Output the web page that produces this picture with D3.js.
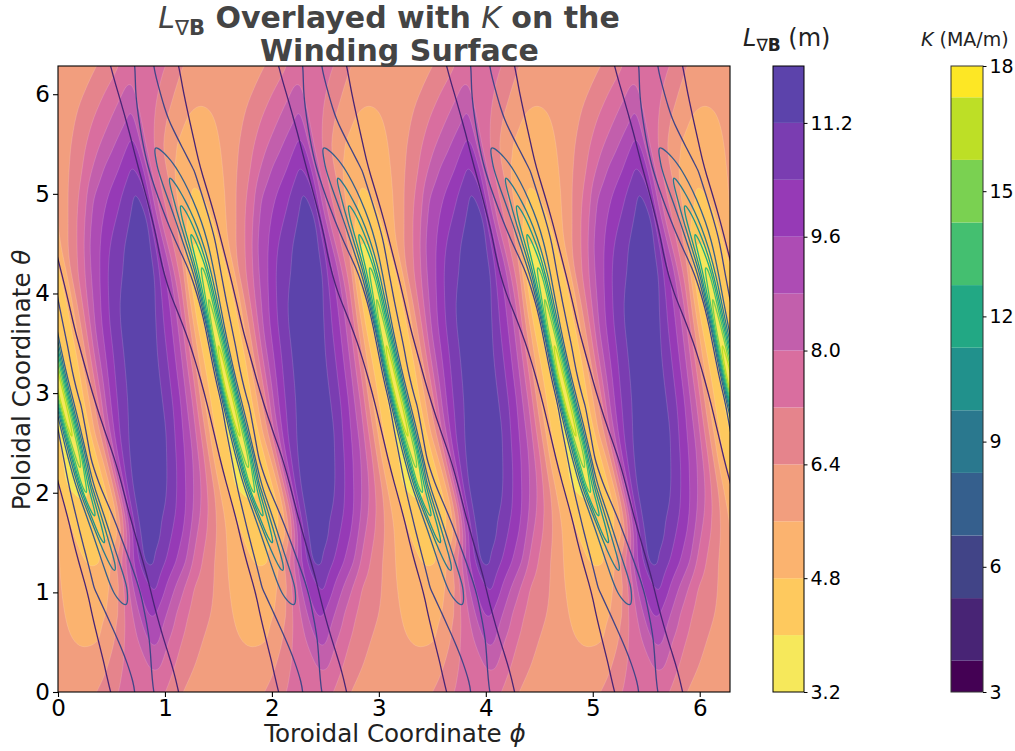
<!DOCTYPE html>
<html>
<head>
<meta charset="utf-8">
<script src="https://cdn.jsdelivr.net/npm/d3@7"></script>
<style>
body { margin: 0; background: #fff; }
text { font-family: "DejaVu Sans", sans-serif; }
</style>
</head>
<body>
<svg width="1015" height="751"></svg>
<script>
// theta of every grid row, top of the plot first
var thetas = [6.283, 6.021, 5.760, 5.498, 5.236, 4.974, 4.712, 4.451, 4.189, 3.927, 3.665, 3.403, 3.142,
    2.880, 2.618, 2.356, 2.094, 1.833, 1.571, 1.309, 1.047, 0.785, 0.524, 0.262, 0];

// phi of the current sheet ridge on each row, the grids below are read relative to it
var ridgePhi = [2.375, 2.394, 2.422, 2.468, 2.581, 2.683, 2.777, 2.861, 2.936, 2.983, 3.030, 3.086, 3.132,
    3.198, 3.254, 3.329, 3.375, 3.460, 3.544, 3.637, 3.740, 3.815, 3.899, 3.927, 3.946];

// phi offsets from the ridge, one field period
var lOffsets = [-0.785, -0.673, -0.561, -0.468, -0.374, -0.299, -0.234, -0.187, -0.150, -0.112, -0.075, -0.037,
    0, 0.056, 0.112, 0.168, 0.224, 0.281, 0.337, 0.393, 0.449, 0.524, 0.598, 0.692];
var kOffsets = [-0.785, -0.421, -0.337, -0.262, -0.206, -0.159, -0.122, -0.094, -0.075, -0.056, -0.037, -0.019,
    0, 0.019, 0.037, 0.056, 0.075, 0.094, 0.122, 0.159, 0.206, 0.262, 0.337, 0.421];

var lGradB = [
[6.0,6.05,6.2,6.33,6.6,6.9,7.2,7.5,7.7,7.85,7.9,7.9,7.85,7.7,7.5,7.3,7.1,6.8,6.5,6.3,6.15,6.0,5.9,5.9],
[6.1,6.25,6.43,6.85,7.25,7.6,7.9,8.15,8.2,8.05,7.9,7.75,7.65,7.4,7.2,6.9,6.6,6.33,6.1,5.95,5.8,5.72,5.75,5.85],
[6.1,6.45,7.0,7.45,7.9,8.3,8.6,8.95,9.05,8.4,8.0,7.75,7.5,7.15,6.75,6.4,6.15,5.9,5.65,5.5,5.42,5.42,5.55,5.75],
[6.35,6.95,7.65,8.2,8.75,9.2,9.65,9.95,9.3,8.55,8.0,7.6,7.2,6.65,6.2,5.85,5.55,5.35,5.2,5.1,5.05,5.15,5.5,5.9],
[7.2,8.15,9.0,9.45,10.1,10.7,10.2,9.2,8.25,7.65,7.2,6.85,6.5,5.75,5.4,5.2,5.0,4.88,4.88,5.05,5.3,5.55,6.0,6.55],
[8.75,9.45,10.1,10.8,11.45,10.7,9.0,8.0,7.45,7.0,6.65,6.3,5.6,5.3,4.95,4.6,4.55,4.9,5.2,5.35,5.6,6.15,6.75,7.55],
[9.65,10.4,11.1,11.6,11.4,9.4,8.0,7.4,7.05,6.65,6.1,5.3,4.8,4.4,4.3,4.4,4.65,4.95,5.35,5.75,6.3,7.0,7.8,9.0],
[10.6,11.2,11.7,11.6,10.4,8.95,7.55,6.95,6.55,5.6,4.6,3.95,3.75,3.85,4.2,4.5,4.75,5.3,6.0,6.6,7.1,8.0,9.1,9.75],
[11.0,11.8,11.9,11.3,9.9,8.65,7.4,6.4,5.2,4.4,3.95,3.6,3.5,3.8,4.25,4.5,4.65,5.3,6.55,7.2,7.9,8.9,9.6,10.6],
[11.6,11.95,11.8,10.75,9.6,8.55,7.0,5.8,4.95,4.3,3.85,3.5,3.4,3.75,4.25,4.5,4.65,5.4,6.4,7.35,8.25,9.3,10.1,11.0],
[11.75,12.0,11.4,10.4,9.4,8.15,6.6,5.6,4.8,4.2,3.8,3.45,3.35,3.7,4.2,4.45,4.7,5.6,6.55,7.6,8.7,9.6,10.4,11.15],
[11.85,11.9,10.95,10.15,8.95,7.6,6.2,5.2,4.65,4.15,3.8,3.4,3.3,3.7,4.2,4.5,4.8,5.95,6.9,8.0,8.95,9.9,10.6,11.35],
[11.95,11.7,10.8,9.95,8.65,7.35,6.0,5.0,4.7,4.2,3.85,3.4,3.3,3.75,4.25,4.55,4.8,5.85,7.0,8.15,9.1,10.2,10.85,11.5],
[11.9,11.45,10.5,9.5,8.15,6.6,5.3,4.75,4.4,4.05,3.75,3.4,3.35,3.75,4.25,4.6,5.2,6.25,7.45,8.8,9.75,10.6,11.2,11.7],
[11.85,11.2,10.1,9.05,7.6,6.25,5.05,4.5,4.2,3.95,3.7,3.45,3.4,3.8,4.3,4.6,5.6,6.65,8.25,9.3,10.25,11.0,11.6,11.9],
[11.6,10.6,9.5,8.5,6.9,5.5,4.65,4.4,4.1,3.85,3.6,3.5,3.55,3.95,4.4,4.7,5.6,6.65,8.55,9.95,10.8,11.6,11.85,11.95],
[11.2,10.25,9.1,8.0,6.75,5.5,4.8,4.2,3.9,3.75,3.65,3.6,3.7,4.0,4.35,4.55,5.05,6.65,8.5,10.1,11.1,11.6,11.7,11.75],
[10.4,9.4,8.1,7.0,6.0,5.2,4.7,4.5,4.4,4.3,4.2,4.2,4.25,4.4,4.55,4.75,5.7,7.2,9.2,10.9,11.4,11.5,11.45,11.15],
[9.4,8.0,7.0,6.2,5.4,5.0,4.7,4.6,4.5,4.45,4.45,4.5,4.55,4.7,4.95,5.85,7.45,9.2,10.6,11.4,11.6,11.5,10.9,10.15],
[7.75,6.8,6.1,5.5,5.2,4.9,4.75,4.7,4.7,4.78,5.0,5.3,5.6,6.55,7.5,8.8,10.0,10.9,11.55,11.3,10.85,10.3,9.7,8.9],
[6.75,6.2,5.55,5.25,5.0,4.95,5.05,5.2,5.4,5.7,6.05,6.3,6.9,7.85,8.95,9.7,10.2,10.7,10.3,9.75,9.2,8.55,7.85,7.0],
[6.3,5.8,5.45,5.3,5.3,5.4,5.55,5.85,6.1,6.4,6.95,7.4,7.8,8.5,9.15,9.7,9.75,9.3,8.85,8.35,7.85,7.3,6.95,6.6],
[5.95,5.6,5.52,5.5,5.58,5.95,6.35,6.75,7.1,7.45,7.6,7.85,8.1,8.75,9.1,9.0,8.5,8.0,7.65,7.25,7.0,6.7,6.4,6.15],
[5.95,5.8,5.7,5.85,6.15,6.5,6.9,7.15,7.3,7.4,7.55,7.7,7.75,8.0,8.25,8.05,7.7,7.35,7.05,6.8,6.55,6.3,6.15,6.0],
[6.0,6.05,6.2,6.33,6.6,6.9,7.2,7.5,7.7,7.85,7.9,7.9,7.85,7.7,7.5,7.3,7.1,6.8,6.5,6.3,6.15,6.0,5.9,5.9]
];

var kSheet = [
[3.5,4.1,4.4,4.85,5.2,5.5,5.7,5.9,6.0,6.1,6.2,6.3,6.4,6.35,6.25,6.15,6.05,5.95,5.8,5.6,5.25,4.9,4.45,4.1],
[3.5,3.9,4.2,4.5,5.0,5.4,5.8,6.1,6.2,6.3,6.4,6.5,6.6,6.55,6.5,6.4,6.3,6.2,6.05,5.8,5.4,5.1,4.55,4.2],
[3.5,3.7,3.9,4.2,4.6,5.25,5.75,6.1,6.3,6.5,6.7,6.8,6.9,6.85,6.8,6.7,6.6,6.5,6.3,6.1,5.75,5.3,4.7,4.2],
[3.5,3.6,3.8,4.1,4.45,5.1,5.7,6.15,6.45,6.75,7.0,7.25,7.4,7.3,7.25,7.15,7.05,6.95,6.8,6.6,6.3,5.9,4.95,4.2],
[3.5,3.7,4.0,4.4,5.1,6.0,6.7,7.2,7.5,7.8,8.2,8.5,8.7,8.6,8.4,8.2,8.0,7.75,7.4,7.1,6.7,6.0,4.3,3.8],
[3.5,3.6,4.1,4.7,5.7,6.3,6.9,7.5,7.8,8.4,9.0,9.7,10.2,10.0,9.6,9.0,8.5,8.2,7.7,7.3,6.6,5.6,3.5,3.4],
[3.5,3.7,4.3,5.0,5.75,6.4,7.0,7.5,8.5,9.5,10.5,11.3,11.7,11.4,10.9,10.1,9.4,8.8,8.0,7.4,6.5,4.8,3.6,3.4],
[3.5,3.9,4.6,5.2,5.6,6.0,7.0,7.9,9.0,10.2,11.5,12.5,12.9,12.5,11.5,10.5,9.6,8.7,7.5,6.7,5.8,4.3,3.6,3.4],
[3.5,4.3,4.8,5.15,5.5,5.75,6.0,7.5,9.0,10.8,12.4,13.6,14.1,13.6,12.2,10.6,9.2,8.0,6.8,6.0,5.2,4.2,3.7,3.4],
[3.5,4.1,4.5,4.95,5.2,5.45,5.75,6.0,8.2,10.8,13.0,14.6,15.2,14.6,12.8,10.8,9.0,7.5,6.7,6.0,5.2,4.4,3.8,3.5],
[3.5,3.9,4.2,4.6,5.0,5.4,5.65,5.85,6.0,9.0,13.0,15.6,16.3,15.6,13.8,11.5,9.3,7.5,6.8,6.1,5.3,4.5,3.9,3.6],
[3.5,3.8,4.1,4.45,4.9,5.3,5.65,5.9,7.5,10.5,14.0,16.3,17.0,16.3,14.5,12.0,9.6,7.5,6.7,6.0,5.2,4.6,3.9,3.6],
[3.5,3.7,3.9,4.2,4.65,5.2,5.6,5.9,7.5,10.8,14.5,16.9,17.6,17.0,15.0,12.4,9.8,7.5,6.4,5.8,5.3,4.8,4.1,3.7],
[3.5,3.7,3.9,4.2,4.7,5.25,5.7,6.0,8.0,11.0,14.5,16.9,17.6,17.0,15.3,12.6,10.0,7.8,6.7,6.0,5.4,4.8,4.1,3.7],
[3.5,3.7,3.9,4.2,4.7,5.3,5.75,6.6,8.2,10.8,13.8,16.2,17.0,16.4,14.8,12.6,10.2,8.0,6.6,5.85,5.45,5.0,4.4,3.9],
[3.5,3.7,4.0,4.35,5.0,5.6,6.2,7.5,8.8,10.8,13.0,15.2,16.0,15.3,13.5,11.2,8.8,6.6,5.85,5.6,5.3,4.95,4.5,4.0],
[3.5,3.6,3.85,4.2,4.8,5.6,6.4,7.0,7.5,9.6,11.8,13.8,14.6,13.8,12.2,10.6,9.0,7.5,6.4,5.75,5.3,5.0,4.7,4.1],
[3.5,3.6,3.8,4.2,5.1,6.1,6.6,7.1,7.4,8.4,10.0,12.0,12.8,12.2,11.0,9.8,8.7,7.5,6.8,6.15,5.6,5.1,4.5,3.9],
[3.5,3.7,3.95,4.6,5.85,6.3,6.7,7.2,7.4,7.9,9.0,10.6,11.2,10.8,10.0,9.0,8.1,7.3,6.9,6.4,5.7,5.1,4.3,3.8],
[3.5,3.8,4.1,5.2,6.15,6.6,7.0,7.35,7.7,8.3,8.9,9.5,9.7,9.4,8.9,8.2,7.5,7.2,6.7,6.2,5.6,5.0,4.1,3.7],
[3.5,3.9,4.35,6.0,6.35,6.7,7.25,7.6,7.8,7.9,8.05,8.1,8.1,7.9,7.6,7.4,7.2,6.95,6.6,6.1,5.4,4.5,3.9,3.6],
[3.5,4.1,4.7,5.6,6.15,6.5,6.8,7.0,7.1,7.15,7.2,7.2,7.2,7.1,7.0,6.85,6.7,6.5,6.2,5.7,5.0,4.2,3.7,3.5],
[3.5,4.2,4.8,5.4,5.95,6.2,6.4,6.55,6.6,6.65,6.7,6.7,6.65,6.55,6.45,6.3,6.2,6.05,5.8,5.4,4.75,4.2,3.8,3.6],
[3.5,4.2,4.55,5.0,5.35,5.8,6.05,6.15,6.25,6.3,6.35,6.4,6.4,6.3,6.25,6.15,6.05,5.95,5.75,5.45,5.05,4.7,4.1,3.8],
[3.5,4.1,4.4,4.85,5.2,5.5,5.7,5.9,6.0,6.1,6.2,6.3,6.4,6.35,6.25,6.15,6.05,5.95,5.8,5.6,5.25,4.9,4.45,4.1]
];

var lLevels = [3.2, 4, 4.8, 5.6, 6.4, 7.2, 8, 8.8, 9.6, 10.4, 11.2, 12];
var lColors = ["#f6e85b", "#fec95e", "#fbb36f", "#f29e7e", "#e5848c", "#d96e9f", "#c25fac", "#ad4cb4", "#963ab6", "#7a3db1", "#5c43ab"];
var lTicks = [3.2, 4.8, 6.4, 8.0, 9.6, 11.2];
var kLevels = [3, 4.5, 6, 7.5, 9, 10.5, 12, 13.5, 15, 16.5, 18];
var kTicks = [3, 6, 9, 12, 15, 18];
var phiTicks = [0, 1, 2, 3, 4, 5, 6];
var thetaTicks = [0, 1, 2, 3, 4, 5, 6];

var fieldPeriod = Math.PI / 2;
var periods = [-3, -2, -1, 0, 1, 2, 3];
var padRows = 2;

var svg = d3.select("svg");
var left = 58, right = 730, top_ = 66, bottom = 692;

var xScale = d3.scaleLinear().domain([0, 2 * Math.PI]).range([left, right]);
var yScale = d3.scaleLinear().domain([0, 2 * Math.PI]).range([bottom, top_]);

// the field wraps in theta too, add rows past both edges so contours leave the plot cleanly
var nRows = thetas.length - 1;
var paddedThetas = thetas.slice(nRows - padRows, nRows).map(function (t) { return t + 2 * Math.PI; })
    .concat(thetas, thetas.slice(1, padRows + 1).map(function (t) { return t - 2 * Math.PI; }));
var paddedRidge = ridgePhi.slice(nRows - padRows, nRows).map(function (r) { return r - fieldPeriod; })
    .concat(ridgePhi, ridgePhi.slice(1, padRows + 1).map(function (r) { return r + fieldPeriod; }));
var rowTheta = d3.scaleLinear().domain(d3.range(paddedThetas.length)).range(paddedThetas);
var rowRidge = d3.scaleLinear().domain(d3.range(paddedRidge.length)).range(paddedRidge);

// takes the small kinks out of a closed ring, the grid is coarse
function smoothRing(pts) {
    return pts.map(function (p, i) {
        var a = pts[(i - 1 + pts.length) % pts.length], b = pts[(i + 1) % pts.length];
        return [(a[0] + 2 * p[0] + b[0]) / 4, (a[1] + 2 * p[1] + b[1]) / 4];
    });
}

// repeat the one-period grid along phi and contour it in index space
function contourField(rows, offsets, levels) {
    var tiledOffsets = [];
    var values = [];
    var paddedRows = rows.slice(nRows - padRows, nRows).concat(rows, rows.slice(1, padRows + 1));
    periods.forEach(function (p) {
        offsets.forEach(function (o) { tiledOffsets.push(o + p * fieldPeriod); });
    });
    paddedRows.forEach(function (row) {
        periods.forEach(function () {
            row.forEach(function (v) { values.push(v); });
        });
    });
    var colOffset = d3.scaleLinear().domain(d3.range(tiledOffsets.length)).range(tiledOffsets);
    var line = d3.line().curve(d3.curveBasisClosed);

    var shapes = d3.contours()
        .size([tiledOffsets.length, paddedRows.length])
        .thresholds(levels)(values);

    return shapes.map(function (shape) {
        var d = "";
        shape.coordinates.forEach(function (polygon) {
            polygon.forEach(function (ring) {
                var pts = ring.slice(0, -1).map(function (c) {
                    var col = c[0] - 0.5, row = c[1] - 0.5;
                    return [xScale(rowRidge(row) + colOffset(col)), yScale(rowTheta(row))];
                });
                d += line(smoothRing(pts));
            });
        });
        return { value: shape.value, d: d };
    });
}

var defs = svg.append("defs");
defs.append("clipPath").attr("id", "plot-clip")
    .append("rect")
    .attr("x", left).attr("y", top_)
    .attr("width", right - left).attr("height", bottom - top_);

var plot = svg.append("g").attr("clip-path", "url(#plot-clip)");

plot.append("rect")
    .attr("x", left).attr("y", top_)
    .attr("width", right - left).attr("height", bottom - top_)
    .attr("fill", lColors[0]);

// filled L bands, lowest first so each one paints over the last
plot.selectAll(".band")
    .data(contourField(lGradB, lOffsets, lLevels.slice(1, -1)))
    .enter()
    .append("path")
    .attr("class", "band")
    .attr("d", function (d) { return d.d; })
    .attr("fill", function (d, i) { return lColors[i + 1]; })
    .attr("stroke", "#fff")
    .attr("stroke-opacity", 0.2)
    .attr("stroke-width", 0.7);

// K contour lines
var kColor = function (v) { return d3.interpolateViridis((v - 3) / 15); };
plot.selectAll(".kline")
    .data(contourField(kSheet, kOffsets, kLevels.slice(1)))
    .enter()
    .append("path")
    .attr("class", "kline")
    .attr("d", function (d) { return d.d; })
    .attr("fill", "none")
    .attr("stroke", function (d) { return kColor(d.value); })
    .attr("stroke-width", 1.3);

svg.append("rect")
    .attr("x", left).attr("y", top_)
    .attr("width", right - left).attr("height", bottom - top_)
    .attr("fill", "none").attr("stroke", "#000").attr("stroke-width", 1.1);

var xAxis = svg.append("g")
    .attr("transform", "translate(0," + bottom + ")")
    .call(d3.axisBottom(xScale).tickValues(phiTicks).tickFormat(d3.format("d")).tickSize(5).tickPadding(3).tickSizeOuter(0));
var yAxis = svg.append("g")
    .attr("transform", "translate(" + left + ",0)")
    .call(d3.axisLeft(yScale).tickValues(thetaTicks).tickFormat(d3.format("d")).tickSize(5).tickPadding(3).tickSizeOuter(0));
[xAxis, yAxis].forEach(function (a) {
    a.select(".domain").remove();
    a.selectAll("text").attr("font-size", "23px").attr("fill", "#000");
    a.selectAll("line").attr("stroke", "#000").attr("stroke-width", 1.1);
    a.attr("font-family", null);
});

svg.append("text")
    .attr("x", 395).attr("y", 742)
    .attr("text-anchor", "middle")
    .attr("font-size", "24.6px")
    .attr("fill", "#222")
    .html('Toroidal Coordinate <tspan font-style="italic">ϕ</tspan>');

svg.append("text")
    .attr("transform", "translate(30,380) rotate(-90)")
    .attr("text-anchor", "middle")
    .attr("font-size", "24.6px")
    .attr("fill", "#222")
    .html('Poloidal Coordinate <tspan font-style="italic">θ</tspan>');

var title = svg.append("text")
    .attr("x", 389).attr("y", 28)
    .attr("text-anchor", "middle")
    .attr("font-size", "30px")
    .attr("font-weight", "bold")
    .attr("fill", "#444");
title.append("tspan").attr("font-style", "italic").attr("font-weight", "normal").text("L");
title.append("tspan").attr("dy", 7).attr("font-size", "21px").attr("font-weight", "normal").text("∇");
title.append("tspan").attr("font-size", "21px").text("B");
title.append("tspan").attr("dy", -7).text(" Overlayed with ");
title.append("tspan").attr("font-style", "italic").attr("font-weight", "normal").text("K");
title.append("tspan").text(" on the");
svg.append("text")
    .attr("x", 399.5).attr("y", 61)
    .attr("text-anchor", "middle")
    .attr("font-size", "30px")
    .attr("font-weight", "bold")
    .attr("fill", "#444")
    .text("Winding Surface");

// L colorbar
var lBarScale = d3.scaleLinear().domain([3.2, 12]).range([bottom, top_]);
var lBar = svg.append("g");
lBar.selectAll("rect")
    .data(lColors)
    .enter()
    .append("rect")
    .attr("x", 773).attr("width", 31)
    .attr("y", function (d, i) { return lBarScale(lLevels[i + 1]); })
    .attr("height", function (d, i) { return lBarScale(lLevels[i]) - lBarScale(lLevels[i + 1]); })
    .attr("fill", function (d) { return d; });
lBar.append("rect")
    .attr("x", 773).attr("y", top_).attr("width", 31).attr("height", bottom - top_)
    .attr("fill", "none").attr("stroke", "#000").attr("stroke-width", 1);
var lAxis = svg.append("g")
    .attr("transform", "translate(804,0)")
    .call(d3.axisRight(lBarScale).tickValues(lTicks).tickFormat(d3.format(".1f")).tickSize(3.5).tickPadding(3).tickSizeOuter(0));

// K colorbar, each level owns the band centred on it
var kBarScale = d3.scaleLinear().domain([3, 18]).range([bottom, top_]);
var kBar = svg.append("g");
kBar.selectAll("rect")
    .data(kLevels)
    .enter()
    .append("rect")
    .attr("x", 951).attr("width", 32)
    .attr("y", function (d) { return kBarScale(Math.min(d + 0.75, 18)); })
    .attr("height", function (d) { return kBarScale(Math.max(d - 0.75, 3)) - kBarScale(Math.min(d + 0.75, 18)); })
    .attr("fill", kColor);
kBar.append("rect")
    .attr("x", 951).attr("y", top_).attr("width", 32).attr("height", bottom - top_)
    .attr("fill", "none").attr("stroke", "#333").attr("stroke-width", 1);
var kAxis = svg.append("g")
    .attr("transform", "translate(983,0)")
    .call(d3.axisRight(kBarScale).tickValues(kTicks).tickFormat(d3.format("d")).tickSize(3.5).tickPadding(3).tickSizeOuter(0));

[lAxis, kAxis].forEach(function (a) {
    a.select(".domain").remove();
    a.selectAll("text").attr("font-size", "19px").attr("fill", "#000");
    a.selectAll("line").attr("stroke", "#000");
    a.attr("font-family", null);
});

var lLabel = svg.append("text")
    .attr("x", 743).attr("y", 46)
    .attr("font-size", "24px")
    .attr("fill", "#222");
lLabel.append("tspan").attr("font-style", "italic").text("L");
lLabel.append("tspan").attr("dy", 5).attr("font-size", "17px").text("∇");
lLabel.append("tspan").attr("font-size", "17px").attr("font-weight", "bold").text("B");
lLabel.append("tspan").attr("dy", -5).text(" (m)");

var kLabel = svg.append("text")
    .attr("x", 921).attr("y", 46)
    .attr("font-size", "19px")
    .attr("fill", "#222");
kLabel.append("tspan").attr("font-style", "italic").text("K");
kLabel.append("tspan").text(" (MA/m)");
</script>
</body>
</html>
